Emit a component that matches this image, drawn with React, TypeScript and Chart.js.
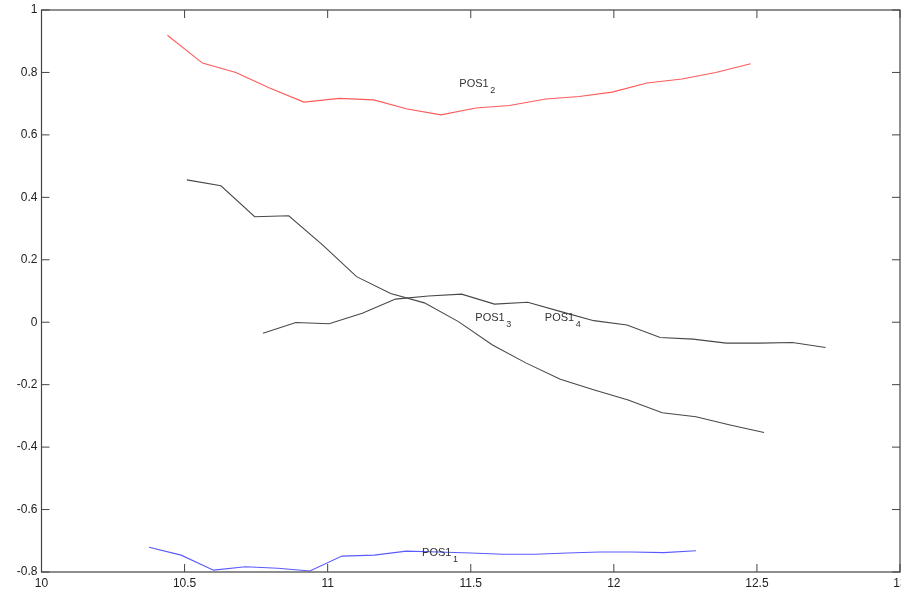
import { useEffect, useRef } from "react";
import { Chart, registerables } from "chart.js";

Chart.register(...registerables);

// ---- Data ----
const pos1_2X = [10.44, 10.5625, 10.679, 10.797, 10.917, 11.041, 11.161, 11.278, 11.396, 11.518, 11.635, 11.763, 11.879, 11.994, 12.116, 12.238, 12.356, 12.478];
const pos1_2Y = [0.919, 0.830, 0.800, 0.750, 0.705, 0.717, 0.712, 0.683, 0.664, 0.686, 0.694, 0.715, 0.723, 0.737, 0.766, 0.779, 0.800, 0.828];

const pos1_1X = [10.376, 10.488, 10.601, 10.713, 10.826, 10.938, 11.050, 11.163, 11.275, 11.388, 11.500, 11.612, 11.725, 11.837, 11.950, 12.062, 12.174, 12.287];
const pos1_1Y = [-0.721, -0.746, -0.794, -0.783, -0.788, -0.797, -0.749, -0.746, -0.733, -0.736, -0.739, -0.743, -0.743, -0.739, -0.736, -0.736, -0.738, -0.732];

const pos1_3X = [10.508, 10.627, 10.745, 10.864, 10.982, 11.101, 11.220, 11.338, 11.457, 11.576, 11.694, 11.813, 11.932, 12.050, 12.169, 12.287, 12.406, 12.525];
const pos1_3Y = [0.456, 0.437, 0.338, 0.341, 0.248, 0.146, 0.092, 0.062, 0.002, -0.073, -0.131, -0.183, -0.217, -0.249, -0.290, -0.303, -0.329, -0.353];

const pos1_4X = [10.774, 10.889, 11.005, 11.121, 11.237, 11.352, 11.468, 11.583, 11.699, 11.815, 11.930, 12.046, 12.162, 12.277, 12.393, 12.508, 12.624, 12.740];
const pos1_4Y = [-0.035, -0.001, -0.005, 0.029, 0.074, 0.084, 0.090, 0.058, 0.064, 0.034, 0.005, -0.009, -0.049, -0.054, -0.067, -0.067, -0.065, -0.081];

// Text labels placed in data coordinates
const labelNames = ["POS1", "POS1", "POS1", "POS1"];
const labelSubs = ["1", "2", "3", "4"];
const labelX = [11.330, 11.460, 11.516, 11.759];
const labelY = [-0.738, 0.764, 0.014, 0.014];

// Axis ranges / ticks
const xMin = 10;
const xMax = 13;
const xStep = 0.5;
const yMin = -0.8;
const yMax = 1;
const yStep = 0.2;

const FONT = "'Liberation Sans', Arial, Helvetica, sans-serif";

const toPoints = (xs: number[], ys: number[]) => xs.map((x, i) => ({ x, y: ys[i] }));

const fmt = (v: number) => {
  const n = Number(Number(v).toFixed(2));
  return n === 0 ? "0" : String(n);
};

const framePlugin = {
  id: "frame",
  afterDatasetsDraw(chart: any) {
    const { ctx, chartArea, scales } = chart;
    const { left, right, top, bottom } = chartArea;
    const xs = scales.x;
    const ys = scales.y;
    ctx.save();
    ctx.strokeStyle = "#444";
    ctx.lineWidth = 1.2;
    ctx.strokeRect(left, top, right - left, bottom - top);
    const tl = 8;
    ctx.beginPath();
    xs.ticks.forEach((t: any) => {
      const px = xs.getPixelForValue(t.value);
      ctx.moveTo(px, bottom);
      ctx.lineTo(px, bottom - tl);
      ctx.moveTo(px, top);
      ctx.lineTo(px, top + tl);
    });
    ys.ticks.forEach((t: any) => {
      const py = ys.getPixelForValue(t.value);
      ctx.moveTo(left, py);
      ctx.lineTo(left + tl, py);
      ctx.moveTo(right, py);
      ctx.lineTo(right - tl, py);
    });
    ctx.lineWidth = 1;
    ctx.stroke();

    // text labels
    ctx.fillStyle = "#333";
    ctx.textBaseline = "middle";
    ctx.textAlign = "left";
    labelNames.forEach((name, i) => {
      const px = xs.getPixelForValue(labelX[i]);
      const py = ys.getPixelForValue(labelY[i]);
      ctx.font = `11px ${FONT}`;
      ctx.fillText(name, px, py);
      const w = ctx.measureText(name).width;
      ctx.font = `9px ${FONT}`;
      ctx.fillText(labelSubs[i], px + w + 1.5, py + 7);
    });
    ctx.restore();
  },
};

export default function App() {
  const ref = useRef<HTMLCanvasElement>(null);

  useEffect(() => {
    if (!ref.current) return;
    const line = (xs: number[], ys: number[], color: string) => ({
      data: toPoints(xs, ys),
      borderColor: color,
      backgroundColor: color,
      borderWidth: 1.1,
      pointRadius: 0,
      tension: 0,
      fill: false,
    });
    const chart = new Chart(ref.current, {
      type: "line",
      data: {
        datasets: [
          line(pos1_1X, pos1_1Y, "#5a5aff"),
          line(pos1_2X, pos1_2Y, "#ff5a5a"),
          line(pos1_3X, pos1_3Y, "#484848"),
          line(pos1_4X, pos1_4Y, "#484848"),
        ] as any,
      },
      options: {
        responsive: false,
        animation: false,
        devicePixelRatio: 1,
        layout: { padding: { top: 10, right: 1, left: 0, bottom: 0 } },
        plugins: {
          legend: { display: false },
          tooltip: { enabled: false },
        },
        scales: {
          x: {
            type: "linear",
            position: "bottom",
            min: xMin,
            max: xMax,
            grid: { display: false, drawTicks: false },
            border: { display: false },
            ticks: {
              stepSize: xStep,
              autoSkip: false,
              maxRotation: 0,
              padding: 4,
              color: "#222",
              font: { family: FONT, size: 12 },
              callback: (v: any) => fmt(v),
            },
            afterFit: (s: any) => {
              s.height = 18;
              s.paddingLeft = 0;
              s.paddingRight = 0;
            },
          },
          y: {
            type: "linear",
            position: "left",
            min: yMin,
            max: yMax,
            grid: { display: false, drawTicks: false },
            border: { display: false },
            ticks: {
              stepSize: yStep,
              autoSkip: false,
              padding: 4,
              color: "#222",
              font: { family: FONT, size: 12 },
              callback: (v: any) => fmt(v),
            },
            afterFit: (s: any) => {
              s.width = 41.5;
              s.paddingTop = 0;
              s.paddingBottom = 0;
            },
          },
        },
      },
      plugins: [framePlugin],
    });
    return () => chart.destroy();
  }, []);

  return (
    <div style={{ position: "fixed", left: 0, top: 0, width: 901, height: 590, background: "#fff" }}>
      <canvas ref={ref} width={901} height={590} style={{ display: "block" }} />
    </div>
  );
}
